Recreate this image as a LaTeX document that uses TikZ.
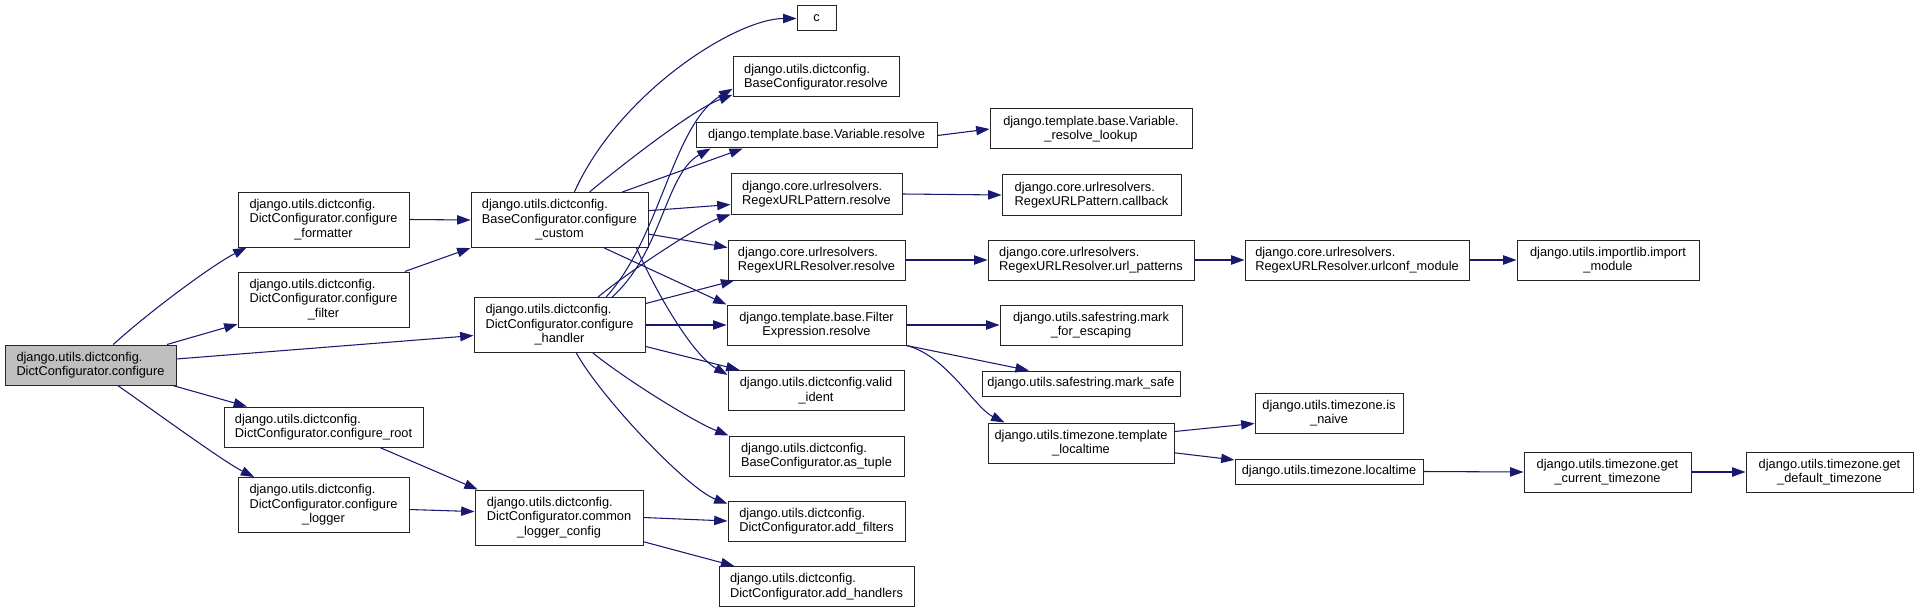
\documentclass[tikz,border=0pt]{standalone}
\usepackage{fontspec}
\setmainfont{Liberation Sans}
\usepackage{xcolor}
\usetikzlibrary{arrows.meta}
\definecolor{edgeblue}{HTML}{191970}
\definecolor{rootgray}{HTML}{BFBFBF}
\newcommand{\lft}[2]{\rlap{#1}\phantom{#2}\\#2}

\begin{document}
\begin{tikzpicture}[
  x=0.75pt,y=-0.75pt,
  font=\fontsize{9.6}{10.8}\selectfont,
  fn/.style={draw=black!85,fill=white,inner sep=0pt,align=center,line width=0.75pt},
  boxw/.style={minimum width=#1*0.75pt},
  one/.style={fn,minimum height=18.75pt},
  two/.style={fn,minimum height=30pt},
  three/.style={fn,minimum height=41.25pt},
  call/.style={-{Triangle[length=10pt,width=7pt]},edgeblue,line width=0.8pt}
]
\useasboundingbox (0,0) rectangle (1919,613);
% callers
\node[two,boxw=171,fill=rootgray] (cfg) at (90.5,365) {\lft{django.utils.dictconfig.}{DictConfigurator.configure}};
\node[three,boxw=171] (fmt) at (323.5,219.5) {\lft{django.utils.dictconfig.}{DictConfigurator.configure}\\\_formatter};
\node[three,boxw=171] (flt) at (323.5,299.5) {\lft{django.utils.dictconfig.}{DictConfigurator.configure}\\\_filter};
\node[two,boxw=199] (root) at (323.5,427) {\lft{django.utils.dictconfig.}{DictConfigurator.configure\_root}};
\node[three,boxw=171] (lgr) at (323.5,505) {\lft{django.utils.dictconfig.}{DictConfigurator.configure}\\\_logger};
\node[three,boxw=177] (cc) at (559.5,220) {\lft{django.utils.dictconfig.}{BaseConfigurator.configure}\\\_custom};
\node[three,boxw=171] (ch) at (559.5,325) {\lft{django.utils.dictconfig.}{DictConfigurator.configure}\\\_handler};
\node[three,boxw=168] (clc) at (559,517.5) {\lft{django.utils.dictconfig.}{DictConfigurator.common}\\\_logger\_config};
% third column
\node[one,boxw=39] (c) at (816.5,18.5) {c};
\node[two,boxw=166] (bres) at (816,77) {\lft{django.utils.dictconfig.}{BaseConfigurator.resolve}};
\node[one,boxw=241] (vres) at (816.5,135.5) {django.template.base.Variable.resolve};
\node[two,boxw=171] (pres) at (816.5,194) {\lft{django.core.urlresolvers.}{RegexURLPattern.resolve}};
\node[two,boxw=177] (rres) at (816.5,260) {\lft{django.core.urlresolvers.}{RegexURLResolver.resolve}};
\node[two,boxw=179] (fres) at (816.5,325) {django.template.base.Filter\\Expression.resolve};
\node[two,boxw=176] (vid) at (816,390.5) {django.utils.dictconfig.valid\\\_ident};
\node[two,boxw=175] (tup) at (816.5,456) {\lft{django.utils.dictconfig.}{BaseConfigurator.as\_tuple}};
\node[two,boxw=177] (addf) at (816.5,521) {\lft{django.utils.dictconfig.}{DictConfigurator.add\_filters}};
\node[two,boxw=195] (addh) at (816.5,586.5) {\lft{django.utils.dictconfig.}{DictConfigurator.add\_handlers}};
% fourth column
\node[two,boxw=202] (look) at (1091,129) {django.template.base.Variable.\\\_resolve\_lookup};
\node[two,boxw=179] (cb) at (1091.5,195) {\lft{django.core.urlresolvers.}{RegexURLPattern.callback}};
\node[two,boxw=206] (urlp) at (1091,260) {\lft{django.core.urlresolvers.}{RegexURLResolver.url\_patterns}};
\node[two,boxw=182] (esc) at (1091,325) {django.utils.safestring.mark\\\_for\_escaping};
\node[one,boxw=198] (safe) at (1081,383.5) {django.utils.safestring.mark\_safe};
\node[two,boxw=186] (tloc) at (1081,443) {django.utils.timezone.template\\\_localtime};
% right part
\node[two,boxw=224] (urlc) at (1357,260) {\lft{django.core.urlresolvers.}{RegexURLResolver.urlconf\_module}};
\node[two,boxw=148] (naive) at (1329,413) {django.utils.timezone.is\\\_naive};
\node[one,boxw=188] (loct) at (1329,471.5) {django.utils.timezone.localtime};
\node[two,boxw=182] (imp) at (1608,260) {django.utils.importlib.import\\\_module};
\node[two,boxw=167] (gct) at (1607.5,472) {django.utils.timezone.get\\\_current\_timezone};
\node[two,boxw=167] (gdt) at (1829.5,472) {django.utils.timezone.get\\\_default\_timezone};
% edges from configure
\draw[call] (cfg.42) .. controls +(35,-32) and +(-35,18) .. (fmt.200);
\draw[call] (cfg.15) -- (flt.196);
\draw[call] (cfg.4) -- (ch.187);
\draw[call] (cfg.-14) -- (root.165);
\draw[call] (cfg.-37) .. controls +(40,28) and +(-30,-15) .. (lgr.158);
\draw[call] (fmt.east) -- (cc.west);
\draw[call] (flt.19) -- (cc.south west);
\draw[call] (root.-20) -- (clc.161);
\draw[call] (lgr.-3) -- (clc.176);
% edges from configure_custom
\draw[call] (cc.62) .. controls +(45,-100) and +(-60,0) .. (c.west);
\draw[call] (cc.43) .. controls +(30,-25) and +(-40,15) .. (bres.192);
\draw[call] (cc.24) -- (vres.190);
\draw[call] (cc.6) -- (pres.187);
\draw[call] (cc.-9) -- (rres.172);
\draw[call] (cc.-32) -- (fres.north west);
\draw[call] (cc.-20) .. controls +(20,45) and +(-35,-20) .. (vid.170);
% edges from configure_handler
\draw[call] (ch.31) .. controls +(55,-60) and +(-60,35) .. (bres.188);
\draw[call] (ch.28) .. controls +(50,-45) and +(-45,25) .. (vres.187);
\draw[call] (ch.36) .. controls +(30,-25) and +(-30,10) .. (pres.south west);
\draw[call] (ch.14) -- (rres.194);
\draw[call] (ch.east) -- (fres.west);
\draw[call] (ch.-14) -- (vid.165);
\draw[call] (ch.-40) .. controls +(35,28) and +(-35,-14) .. (tup.north west);
\draw[call] (ch.-59) .. controls +(25,45) and +(-40,-15) .. (addf.169);
\draw[call] (clc.east) -- (addf.west);
\draw[call] (clc.-16) -- (addh.166);
% further calls
\draw[call] (vres.east) -- (look.west);
\draw[call] (pres.east) -- (cb.west);
\draw[call] (rres.east) -- (urlp.west);
\draw[call] (urlp.east) -- (urlc.west);
\draw[call] (urlc.east) -- (imp.west);
\draw[call] (fres.east) -- (esc.west);
\draw[call] (fres.south east) -- (safe.166);
\draw[call] (fres.south east) .. controls +(40,10) and +(-30,-15) .. (tloc.165);
\draw[call] (tloc.7) -- (naive.188);
\draw[call] (tloc.-6) -- (loct.173);
\draw[call] (loct.east) -- (gct.west);
\draw[call] (gct.east) -- (gdt.west);
\end{tikzpicture}
\end{document}
